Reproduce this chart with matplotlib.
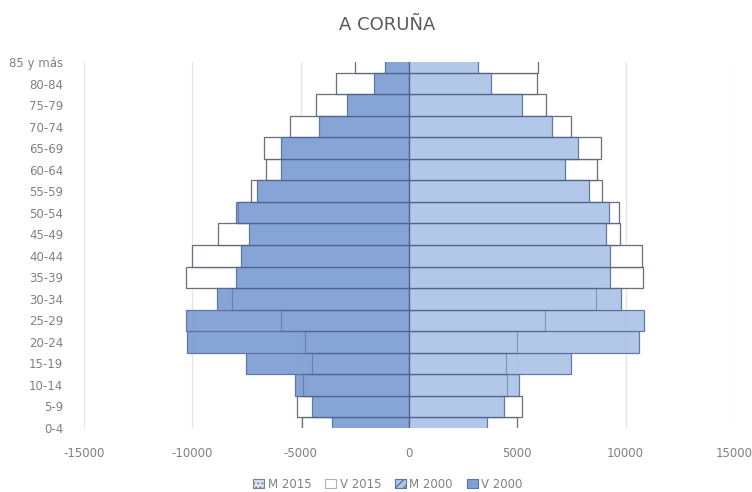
import matplotlib
matplotlib.use("Agg")
import matplotlib.pyplot as plt
from matplotlib.patches import Patch
import numpy as np

categories = ["0-4", "5-9", "10-14", "15-19", "20-24", "25-29", "30-34", "35-39",
              "40-44", "45-49", "50-54", "55-59", "60-64", "65-69", "70-74",
              "75-79", "80-84", "85 y más"]

# Varones (left side)
v2015 = [4920, 5150, 4900, 4460, 4800, 5920, 8180, 10310, 10000, 8800, 7900,
         7310, 6610, 6690, 5510, 4280, 3380, 2490]
v2000 = [3570, 4460, 5260, 7520, 10230, 10310, 8880, 8000, 7770, 7370, 8000,
         7000, 5920, 5920, 4150, 2850, 1620, 1120]
# Mujeres (right side)
m2015 = [4970, 5230, 4540, 4460, 5000, 6280, 8650, 10800, 10740, 9740, 9690,
         8920, 8690, 8850, 7460, 6310, 5920, 5970]
m2000 = [3620, 4380, 5080, 7460, 10620, 10850, 9770, 9280, 9280, 9080, 9230,
         8310, 7200, 7820, 6580, 5230, 3770, 3200]

xticks = [-15000, -10000, -5000, 0, 5000, 10000, 15000]
series_labels = ["M 2015", "V 2015", "M 2000", "V 2000"]

c_v2000 = "#819fd4"
c_m2000 = "#afc4e8"
c_edge2000 = "#5a74a3"
c_edge2015 = "#808080"
txt = "#808080"

fig = plt.figure(figsize=(7.52, 4.92), dpi=100)
ax = fig.add_axes([84/752, 1-428/492, 650/752, (428-62)/492])

y = np.arange(len(categories))
h = 1.0

# 2015 white boxes (underneath)
ax.barh(y, -np.array(v2015), height=h, color="white", edgecolor=c_edge2015, linewidth=0.9, zorder=2)
ax.barh(y, np.array(m2015), height=h, color="white", edgecolor=c_edge2015, linewidth=0.9, zorder=2)
# 2000 filled bars
ax.barh(y, -np.array(v2000), height=h, color=c_v2000, edgecolor=c_edge2000, linewidth=0.9, zorder=3, alpha=0.95)
ax.barh(y, np.array(m2000), height=h, color=c_m2000, edgecolor=c_edge2000, linewidth=0.9, zorder=3, alpha=0.95)
# 2015 outlines on top (faint)
ax.barh(y, -np.array(v2015), height=h, facecolor="none", edgecolor="#4d5f80", linewidth=0.8, zorder=4, alpha=0.45)
ax.barh(y, np.array(m2015), height=h, facecolor="none", edgecolor="#4d5f80", linewidth=0.8, zorder=4, alpha=0.45)

ax.set_xlim(-15000, 15000)
ax.set_ylim(0, len(categories) - 1)
ax.set_xticks(xticks)
ax.set_xticklabels([str(t) for t in xticks])
ax.set_yticks(y)
ax.set_yticklabels(categories)
ax.tick_params(axis="both", length=0, labelsize=8.5, colors=txt)
ax.tick_params(axis="y", pad=15)
ax.tick_params(axis="x", pad=14)
ax.grid(axis="x", color="#e6e6e6", linewidth=0.9, zorder=0)
ax.set_axisbelow(True)
for s in ax.spines.values():
    s.set_visible(False)

fig.text(387/752, 1-25/492, "A CORUÑA", ha="center", va="center", fontsize=13, color="#595959")

handles = [
    Patch(facecolor="#dce6f4", edgecolor=c_edge2015, hatch="....", linewidth=0.8),
    Patch(facecolor="white", edgecolor="#b0b0b0", linewidth=0.8),
    Patch(facecolor=c_m2000, edgecolor=c_edge2000, hatch="////", linewidth=0.8),
    Patch(facecolor=c_v2000, edgecolor=c_edge2000, linewidth=0.8),
]
fig.legend(handles, series_labels, loc="center", bbox_to_anchor=(388/752, 1-484/492),
           ncol=4, frameon=False, fontsize=8.5, labelcolor=txt,
           handlelength=0.9, handleheight=0.9, handletextpad=0.3, columnspacing=1.2)

fig.savefig("out.png", dpi=100)
